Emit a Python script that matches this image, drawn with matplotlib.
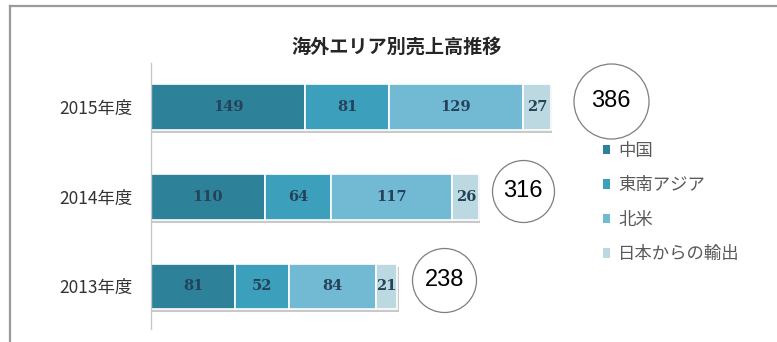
import numpy as np
import matplotlib
matplotlib.use("Agg")
import matplotlib.pyplot as plt
from matplotlib.patches import Patch
from matplotlib.lines import Line2D
from matplotlib.transforms import ScaledTranslation

plt.rcParams['font.family'] = ['Noto Sans CJK JP', 'DejaVu Sans']

# overseas sales by region (bottom row first)
years = ['2013年度', '2014年度', '2015年度']
regions = ['中国', '東南アジア', '北米', '日本からの輸出']
china = [81, 110, 149]
se_asia = [52, 64, 81]
north_america = [84, 117, 129]
export_jp = [21, 26, 27]
totals = [238, 316, 386]

colors = ['#2d8199', '#3c9fbb', '#72b9d3', '#bcd9e2']
circle_r_px = [32, 31, 37.5]
circle_dx_px = [47, 45, 60]

DPI = 100
fig = plt.figure(figsize=(7.77, 3.42), dpi=DPI)
W, H = 777, 342
ax = fig.add_axes([151 / W, 13 / H, (765 - 151) / W, (329 - 63) / H])

y = np.arange(len(years))
bar_h = 0.51
series = [china, se_asia, north_america, export_jp]

# soft shadow under each stacked bar
ax.barh(y - 0.035, np.array(totals) + 1.5, height=bar_h, color='#c9c9c9',
        edgecolor='none', zorder=1)

left = np.zeros(len(years))
for vals, col in zip(series, colors):
    vals = np.array(vals)
    bars = ax.barh(y, vals, left=left, height=bar_h, color=col,
                   edgecolor='white', linewidth=1.2, zorder=2)
    for rect, v in zip(bars, vals):
        ax.text(rect.get_x() + rect.get_width() / 2, rect.get_y() + rect.get_height() / 2,
                str(v), ha='center', va='center', fontsize=10.5, fontweight='bold',
                family='DejaVu Serif', color='#24435a', zorder=3)
    left += vals

# circled totals beside each bar
for yi, tot, r, dx in zip(y, totals, circle_r_px, circle_dx_px):
    off = ScaledTranslation(dx / DPI, 6 / DPI, fig.dpi_scale_trans)
    ax.plot([tot], [yi], marker='o', markersize=2 * r * 72 / DPI,
            markerfacecolor='white', markeredgecolor='#7f7f7f', markeredgewidth=0.9,
            transform=ax.transData + off, clip_on=False, zorder=4)
    ax.text(tot, yi, str(tot), ha='center', va='center', fontsize=17,
            family='Liberation Sans', color='black',
            transform=ax.transData + off, zorder=5)

ax.set_xlim(0, (765 - 152) / 1.034)
ax.set_ylim(-0.475, 2.49)
ax.set_yticks(y)
ax.set_yticklabels(years, fontsize=12.5, color='#333333')
ax.tick_params(axis='y', length=0, pad=13)
ax.set_xticks([])
for s in ['top', 'right', 'bottom']:
    ax.spines[s].set_visible(False)
ax.spines['left'].set_color('#c8c8c8')
ax.spines['left'].set_linewidth(1.0)

fig.text(397 / W, 1 - 47 / H, '海外エリア別売上高推移', ha='center', va='center',
         fontsize=13.8, fontweight='bold', color='#262626')

handles = [Patch(facecolor=c, edgecolor='none') for c in colors]
fig.legend(handles, regions, loc='upper left', bbox_to_anchor=(594 / W, 1 - 133 / H),
           frameon=False, fontsize=12.5, handlelength=0.45, handleheight=0.45,
           handletextpad=0.45, labelspacing=0.95, borderpad=0, labelcolor='#595959')

# outer frame
fig.add_artist(Line2D([10 / W, 1], [1 - 6 / H] * 2, transform=fig.transFigure,
                      color='#9a9a9a', lw=1.6))
fig.add_artist(Line2D([10 / W] * 2, [0, 1 - 6 / H], transform=fig.transFigure,
                      color='#9a9a9a', lw=1.6))

fig.savefig('out.png', dpi=DPI)
